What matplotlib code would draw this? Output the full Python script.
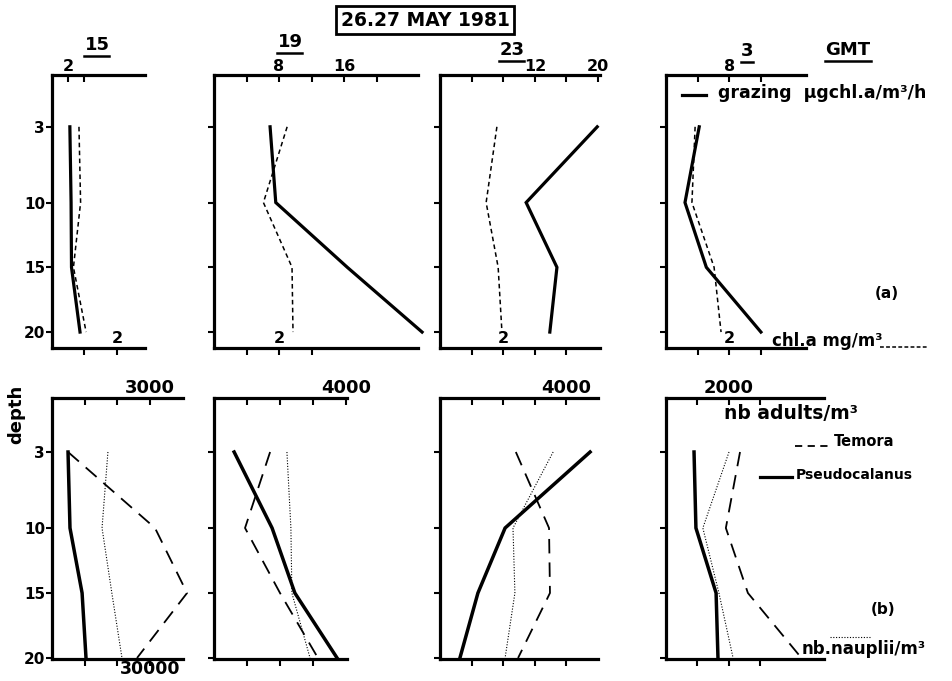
import numpy as np
import matplotlib
matplotlib.use('Agg')
import matplotlib.pyplot as plt
from matplotlib.lines import Line2D

# ---------------- data ----------------
depths = [3, 10, 15, 20]
times = ['15', '19', '23', '3']

# (a) grazing (ug chl.a/m3/h, solid) and chl.a (mg/m3, dashed)
grazing_15 = [2.2, 2.35, 2.4, 3.45]
grazing_19 = [6.9, 7.6, 16.4, 25.6]
grazing_23 = [19.9, 10.9, 14.8, 13.9]
grazing_03 = [4.2, 2.4, 5.1, 12.0]
chla_15 = [0.83, 0.88, 0.66, 1.05]
chla_19 = [2.25, 1.52, 2.4, 2.43]
chla_23 = [1.8, 1.46, 1.84, 1.96]
chla_03 = [0.92, 0.82, 1.52, 1.74]

# (b) nb adults/m3 : Temora (dashed), Pseudocalanus (solid); nb nauplii/m3 (dotted)
temora_15 = [490, 3150, 4130, 2600]
temora_19 = [1700, 940, 2000, 3150]
temora_23 = [2400, 3450, 3480, 2470]
temora_03 = [2350, 1900, 2600, 4300]
pseudo_15 = [490, 550, 920, 1040]
pseudo_19 = [610, 1760, 2450, 3730]
pseudo_23 = [4750, 2060, 1200, 630]
pseudo_03 = [890, 950, 1590, 1650]
nauplii_15 = [17100, 15300, 18300, 21400]
nauplii_19 = [22100, 23300, 23600, 29100]
nauplii_23 = [35800, 23100, 23700, 20600]
nauplii_03 = [20000, 11700, 16800, 21300]

grazing = [grazing_15, grazing_19, grazing_23, grazing_03]
chla = [chla_15, chla_19, chla_23, chla_03]
temora = [temora_15, temora_19, temora_23, temora_03]
pseudo = [pseudo_15, pseudo_19, pseudo_23, pseudo_03]
nauplii = [nauplii_15, nauplii_19, nauplii_23, nauplii_03]

# tick values / labels
graz_ticks = [[2, 4], [4, 8, 12, 16, 20], [4, 8, 12, 16, 20], [4, 8, 12]]
graz_labels = [['2', ''], ['', '8', '', '16', ''], ['', '', '12', '', '20'], ['', '8', '']]
chl_ticks = [[1, 2], [1, 2, 3], [1, 2, 3, 4], [1, 2, 3]]
chl_labels = [['', '2'], ['', '2', ''], ['', '2', '', ''], ['', '2', '']]
adult_ticks = [[1000, 2000, 3000], [1000, 2000, 3000, 4000], [1000, 2000, 3000, 4000], [1000, 2000, 3000]]
adult_labels = [['', '', '3000'], ['', '', '', '4000'], ['', '', '', '4000'], ['', '2000', '']]
naup_ticks = [[10000, 20000, 30000], [10000, 20000, 30000], [10000, 20000, 30000, 40000], [10000, 20000, 30000]]
naup_labels = [['', '', '30000'], ['', '', ''], ['', '', '', ''], ['', '', '']]
depth_ticks = [3, 10, 15, 20]

# ---------------- layout ----------------
W, H = 953, 681
plt.rcParams['font.family'] = ['DejaVu Sans']
plt.rcParams['font.weight'] = 'bold'
fig = plt.figure(figsize=(W / 100, H / 100), dpi=100)

top_x = [(52, 145), (214, 418), (440, 600), (666, 806)]
bot_x = [(52, 183), (214, 347), (440, 598), (666, 824)]
top_y = (75, 348)
bot_y = (398, 659)
graz_max = [11.45, 25.1, 20.25, 17.7]
adult_max = [4006, 4030, 5000, 5016]

# non-linear depth axis of the original drawing
D_knots = [-60, 3, 10, 15, 20, 80]
U_knots = [-684, 0, 76, 141, 206, 986]


def fwd(d):
    return np.interp(d, D_knots, U_knots)


def inv(u):
    return np.interp(u, U_knots, D_knots)


def rect(xr, yr):
    return [xr[0] / W, 1 - yr[1] / H, (xr[1] - xr[0]) / W, (yr[1] - yr[0]) / H]


SPW = 2.3


def style_axes(ax, ax2, first, top_len=5):
    for s in ['left', 'top', 'bottom']:
        ax.spines[s].set_linewidth(SPW)
    ax.spines['right'].set_visible(False)
    for s in ax2.spines.values():
        s.set_visible(False)
    ax.set_yscale('function', functions=(fwd, inv))
    ax.set_yticks(depth_ticks)
    ax.set_yticklabels([str(d) for d in depth_ticks] if first else [])
    ax.tick_params(axis='y', direction='out', length=4, width=1.5, labelsize=11, pad=1)
    ax.tick_params(axis='x', direction='out', length=5, width=1.5, pad=0)
    ax2.tick_params(axis='x', direction='in', length=top_len, width=1.5, pad=1)


for i in range(4):
    # ---- row (a)
    ax = fig.add_axes(rect(top_x[i], top_y))
    ax2 = ax.twiny()
    style_axes(ax, ax2, i == 0)
    ax.set_ylim(inv(222), inv(-52))
    ax.set_xlim(0, graz_max[i] / 4)
    ax2.set_xlim(0, graz_max[i])
    ax.set_xticks(chl_ticks[i])
    ax.set_xticklabels(chl_labels[i], fontsize=11.5)
    ax2.set_xticks(graz_ticks[i])
    ax2.set_xticklabels(graz_labels[i], fontsize=11.5)
    ax.tick_params(axis='x', pad=-17)
    ax2.plot(grazing[i], depths, color='black', lw=2.3, clip_on=False,
             solid_joinstyle='miter')
    ax.plot(chla[i], depths, color='black', lw=1.1, ls=(0, (3, 2.2)), clip_on=False)

    # ---- row (b)
    bx = fig.add_axes(rect(bot_x[i], bot_y))
    bx2 = bx.twiny()
    style_axes(bx, bx2, i == 0)
    bx.set_ylim(inv(207), inv(-54))
    bx.set_xlim(0, adult_max[i] * 10)
    bx2.set_xlim(0, adult_max[i])
    bx.set_xticks(naup_ticks[i])
    bx.set_xticklabels(naup_labels[i], fontsize=12.5)
    bx.tick_params(axis='x', pad=-4)
    bx2.set_xticks(adult_ticks[i])
    bx2.set_xticklabels(adult_labels[i], fontsize=13)
    bx2.plot(temora[i], depths, color='black', lw=1.3, ls=(0, (8, 5)), clip_on=False)
    bx2.plot(pseudo[i], depths, color='black', lw=2.5, clip_on=False,
             solid_joinstyle='miter')
    bx.plot(nauplii[i], depths, color='black', lw=0.8, ls=(0, (1, 1.5)), clip_on=False)


# ---------------- annotations ----------------
def fx(px):
    return px / W


def fy(py):
    return 1 - py / H


def fline(x0, x1, y, **kw):
    fig.add_artist(Line2D([fx(x0), fx(x1)], [fy(y), fy(y)], transform=fig.transFigure,
                          color='black', **kw))


fig.text(fx(425), fy(20), '26.27 MAY 1981', ha='center', va='center', fontsize=13.5,
         bbox=dict(boxstyle='square,pad=0.25', fc='white', ec='black', lw=2))

time_pos = [(97, 45), (290, 42), (512, 50), (747, 51)]
labels_to_underline = []
for t, (x, y) in zip(times, time_pos):
    labels_to_underline.append(fig.text(fx(x), fy(y), t, ha='center', va='center', fontsize=13))
labels_to_underline.append(fig.text(fx(848), fy(50), 'GMT', ha='center', va='center', fontsize=13))

fig.canvas.draw()
for t in labels_to_underline:
    bb = t.get_window_extent().transformed(fig.transFigure.inverted())
    fig.add_artist(Line2D([bb.x0, bb.x1], [bb.y0 - 0.003, bb.y0 - 0.003],
                          transform=fig.transFigure, color='black', lw=1.8))

# legend (a)
fline(682, 706, 95, lw=2.3)
fig.text(fx(718), fy(93), 'grazing  μgchl.a/m³/h', ha='left', va='center', fontsize=12.5)
fig.text(fx(887), fy(293), '(a)', ha='center', va='center', fontsize=11)
fig.text(fx(772), fy(341), 'chl.a mg/m³', ha='left', va='center', fontsize=12)
fline(880, 927, 347, lw=1.1, ls=(0, (2.5, 1.5)))

# legend (b)
fig.text(fx(724), fy(413), 'nb adults/m³', ha='left', va='center', fontsize=13.5)
fline(795, 832, 446, lw=1.3, ls=(0, (4, 3)))
fig.text(fx(834), fy(441), 'Temora', ha='left', va='center', fontsize=10.5)
fline(760, 792, 477, lw=2.3)
fig.text(fx(796), fy(475), 'Pseudocalanus', ha='left', va='center', fontsize=10)
fig.text(fx(883), fy(610), '(b)', ha='center', va='center', fontsize=11)
fig.text(fx(802), fy(649), 'nb.nauplii/m³', ha='left', va='center', fontsize=12)
fline(830, 870, 637, lw=0.8, ls=(0, (1, 1.5)))

fig.text(fx(16), fy(414), 'depth', ha='center', va='center', rotation=90, fontsize=13)

fig.savefig('out.png', dpi=100)
